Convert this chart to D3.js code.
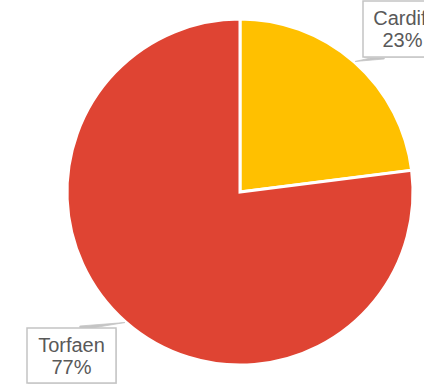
<!DOCTYPE html>
<html>
<head>
<meta charset="utf-8">
<script src="https://cdn.jsdelivr.net/npm/d3@7"></script>
<style>
  html, body { margin: 0; padding: 0; background: #fff; }
  svg { display: block; }
</style>
</head>
<body>
<svg id="chart" width="424" height="386"></svg>
<script>
const categories = ["Cardiff", "Torfaen"];
const values = [23, 77];
const colors = ["#FFC000", "#DF4433"];

const width = 424, height = 386;
const cx = 240, cy = 192, radius = 173;

const svg = d3.select("#chart");
const g = svg.append("g").attr("transform", `translate(${cx},${cy})`);

const pie = d3.pie().sort(null).value(d => d.value);
const arcs = pie(categories.map((c, i) => ({ name: c, value: values[i] })));
const arc = d3.arc().innerRadius(0).outerRadius(radius);

g.selectAll("path.slice")
  .data(arcs)
  .join("path")
  .attr("class", "slice")
  .attr("d", arc)
  .attr("fill", (d, i) => colors[i])
  .attr("stroke", "#fff")
  .attr("stroke-width", 3)
  .attr("stroke-linejoin", "miter");

// Callout boxes: box rectangle, and the point on the box edge where the pointer starts.
// The pointer ends on the slice rim at the slice's mid angle.
const labels = [
  { box: { x: 363, y: 1, w: 79, h: 56 }, base: [384, 57] },
  { box: { x: 27, y: 328, w: 89, h: 55 }, base: [80, 328] }
];

const fmt = d3.format(".0%");
const total = d3.sum(values);

arcs.forEach((a, i) => {
  const L = labels[i];
  const ang = (a.startAngle + a.endAngle) / 2;
  const tip = [cx + Math.sin(ang) * (radius + 1), cy - Math.cos(ang) * (radius + 1)];
  const lg = svg.append("g").attr("class", "label");

  // tapered pointer from box edge to the rim
  const dx = tip[0] - L.base[0], dy = tip[1] - L.base[1];
  const len = Math.hypot(dx, dy);
  const nx = -dy / len, ny = dx / len, hw = 2;
  lg.append("path")
    .attr("d", `M${L.base[0] + nx * hw},${L.base[1] + ny * hw}L${tip[0]},${tip[1]}L${L.base[0] - nx * hw},${L.base[1] - ny * hw}Z`)
    .attr("fill", "#c4c4c4")
    .attr("stroke", "#c4c4c4")
    .attr("stroke-width", 0.8);

  lg.append("rect")
    .attr("x", L.box.x + 1).attr("y", L.box.y + 1)
    .attr("width", L.box.w).attr("height", L.box.h)
    .attr("fill", "#e2e2e2");

  lg.append("rect")
    .attr("x", L.box.x).attr("y", L.box.y)
    .attr("width", L.box.w).attr("height", L.box.h)
    .attr("fill", "#fff")
    .attr("stroke", "#c4c4c4")
    .attr("stroke-width", 1.5);

  const tx = L.box.x + L.box.w / 2;
  lg.append("text")
    .attr("x", tx).attr("y", L.box.y + 24)
    .attr("text-anchor", "middle")
    .attr("font-family", "Liberation Sans, Arial, sans-serif")
    .attr("font-size", 20)
    .attr("fill", "#595959")
    .text(a.data.name);
  lg.append("text")
    .attr("x", tx).attr("y", L.box.y + 46)
    .attr("text-anchor", "middle")
    .attr("font-family", "Liberation Sans, Arial, sans-serif")
    .attr("font-size", 20)
    .attr("fill", "#595959")
    .text(fmt(a.data.value / total));
});
</script>
</body>
</html>
